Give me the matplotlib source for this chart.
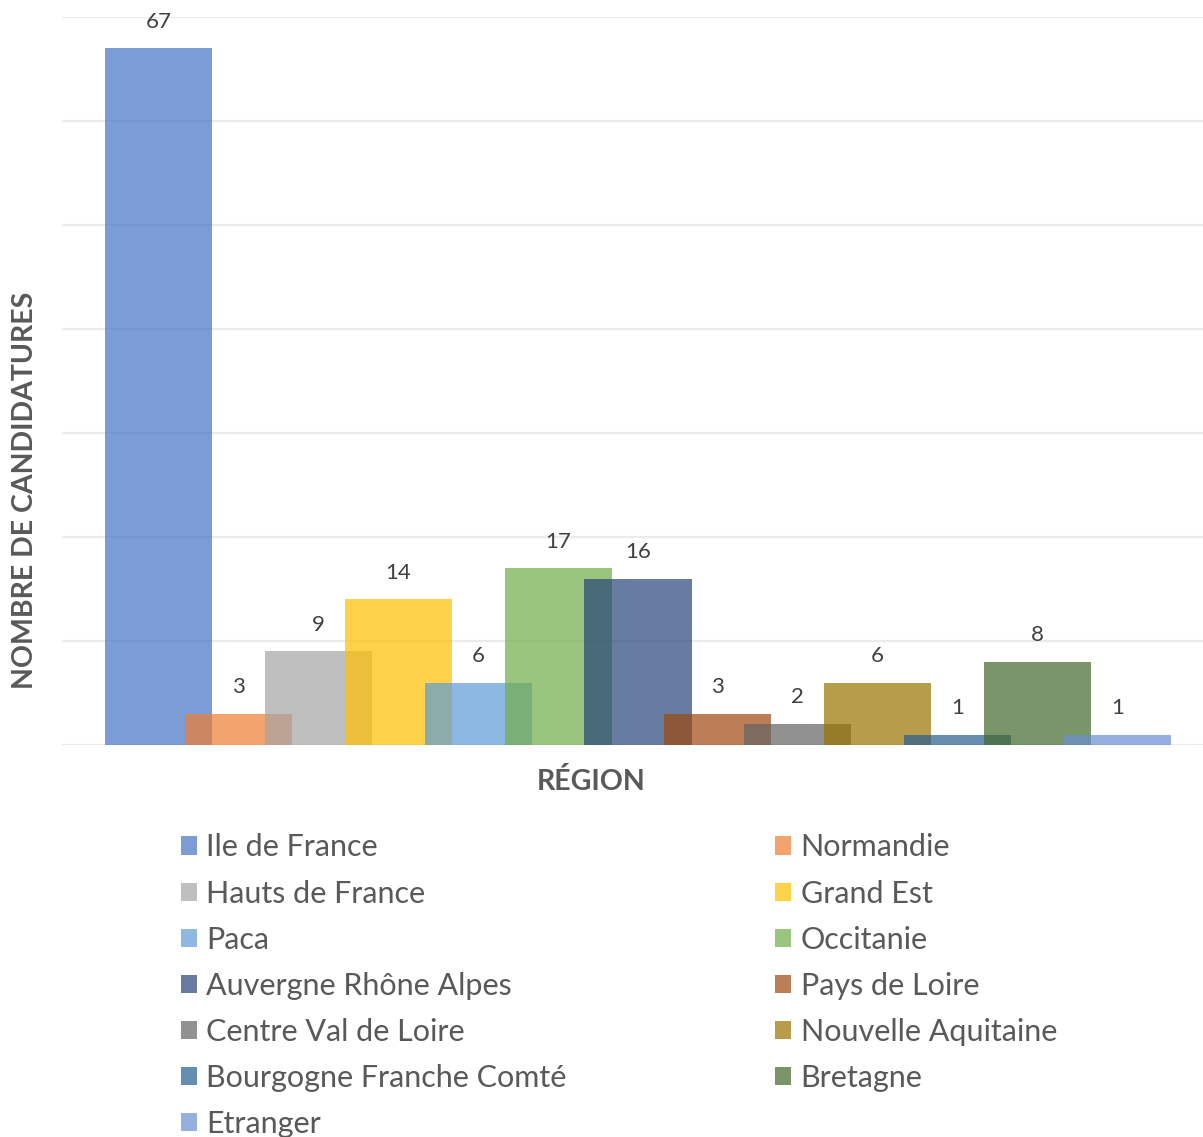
import matplotlib
matplotlib.use('Agg')
import matplotlib.pyplot as plt
from matplotlib.patches import Patch
import numpy as np

# data
regions = ['Ile de France', 'Normandie', 'Hauts de France', 'Grand Est', 'Paca',
           'Occitanie', 'Auvergne Rhône Alpes', 'Pays de Loire', 'Centre Val de Loire',
           'Nouvelle Aquitaine', 'Bourgogne Franche Comté', 'Bretagne', 'Etranger']
counts = [67, 3, 9, 14, 6, 17, 16, 3, 2, 6, 1, 8, 1]
colors = ['#4472C4', '#ED7D31', '#A5A5A5', '#FFC000', '#5B9BD5', '#70AD47',
          '#264478', '#9E480E', '#636363', '#997300', '#255E91', '#43682B', '#698ED0']

plt.rcParams['font.family'] = ['Lato', 'DejaVu Sans']

fig = plt.figure(figsize=(12.03, 11.37), dpi=100)
ax = fig.add_axes([0.0515, 0.3448, 0.9485, 0.6402])

x = np.arange(len(regions))
bw = 1.34
bars = ax.bar(x, counts, width=bw, color=colors, alpha=0.7, zorder=3, linewidth=0)
for xi, v in zip(x, counts):
    ax.annotate(str(v), (xi, v), xytext=(0, 12), textcoords='offset points',
                ha='center', va='bottom', fontsize=16, color='#404040')

ax.set_xlim(-1.208, 13.07)
ax.set_ylim(0, 70)
ax.set_yticks(np.arange(0, 71, 10))
ax.yaxis.grid(True, color='#EBEBEB', linewidth=1.6, zorder=0)
ax.tick_params(left=False, bottom=False, labelleft=False, labelbottom=False)
for s in ax.spines.values():
    s.set_visible(False)

fig.text(25/1203, 1 - 490/1137, 'NOMBRE DE CANDIDATURES', rotation=90, ha='center', va='center',
         fontsize=20.5, fontweight='bold', color='#595959')
fig.text(591/1203, 1 - 782/1137, 'RÉGION', ha='center', va='center',
         fontsize=20.5, fontweight='bold', color='#595959')

# legend, row-wise order in two columns
order = list(range(0, 13, 2)) + list(range(1, 13, 2))
handles = [Patch(facecolor=colors[i], alpha=0.7, label=regions[i]) for i in order]
leg = fig.legend(handles=handles, ncol=2, loc='upper left',
                 bbox_to_anchor=(153/1203, 1 - 806/1137), frameon=False,
                 fontsize=22, labelcolor='#595959', handlelength=0.55, handleheight=0.55,
                 handletextpad=0.3, labelspacing=0.59, columnspacing=6.8)

fig.savefig('out.png', dpi=100)
